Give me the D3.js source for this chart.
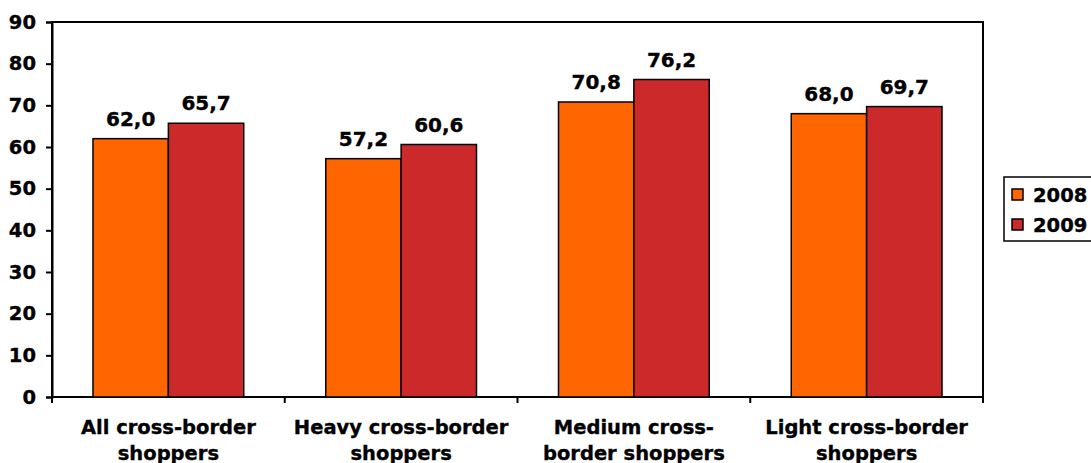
<!DOCTYPE html>
<html>
<head>
<meta charset="utf-8">
<script src="https://cdn.jsdelivr.net/npm/d3@7"></script>
<style>
  body { margin: 0; background: #fff; }
  text { font-family: "DejaVu Sans", Verdana, sans-serif; font-weight: bold; stroke: #000; stroke-width: 0.35px; }
</style>
</head>
<body>
<svg width="1091" height="463"></svg>
<script>
// Chart data
var categories = [
  ["All cross-border", "shoppers"],
  ["Heavy cross-border", "shoppers"],
  ["Medium cross-", "border shoppers"],
  ["Light cross-border", "shoppers"]
];
var series = ["2008", "2009"];
var values2008 = [62.0, 57.2, 70.8, 68.0];
var values2009 = [65.7, 60.6, 76.2, 69.7];
var yTicks = [0, 10, 20, 30, 40, 50, 60, 70, 80, 90];
var colors = ["#ff6600", "#cc292b"];

var svg = d3.select("svg"),
    margin = {top: 22, right: 108, bottom: 66, left: 52},
    width = 983 - margin.left,
    height = 397 - margin.top;

var x = d3.scaleBand().domain(d3.range(categories.length)).range([0, width]).paddingInner(0).paddingOuter(0);
var x1 = d3.scaleBand().domain(series).range([41, x.bandwidth() - 41]);
var y = d3.scaleLinear().domain([0, 90]).range([height, 0]);

var g = svg.append("g")
    .attr("transform", "translate(" + margin.left + "," + margin.top + ")");

// plot frame
g.append("rect")
    .attr("width", width).attr("height", height)
    .attr("fill", "none").attr("stroke", "#000").attr("stroke-width", 2);

// bars
var data = categories.map(function(c, i) {
  return [{s: "2008", v: values2008[i]}, {s: "2009", v: values2009[i]}];
});

var groups = g.selectAll(".grp")
  .data(data)
  .enter().append("g")
    .attr("transform", function(d, i) { return "translate(" + x(i) + ",0)"; });

groups.selectAll("rect")
  .data(function(d) { return d; })
  .enter().append("rect")
    .attr("x", function(d) { return x1(d.s); })
    .attr("y", function(d) { return y(d.v); })
    .attr("width", x1.bandwidth())
    .attr("height", function(d) { return height - y(d.v); })
    .attr("fill", function(d, i) { return colors[i]; })
    .attr("stroke", "#000").attr("stroke-width", 1.5);

groups.selectAll(".lbl")
  .data(function(d) { return d; })
  .enter().append("text")
    .attr("x", function(d) { return x1(d.s) + x1.bandwidth() / 2; })
    .attr("y", function(d) { return y(d.v) - 13; })
    .attr("text-anchor", "middle")
    .style("font-size", "20px")
    .text(function(d) { return d.v.toFixed(1).replace(".", ","); });

// y axis
var yAxis = g.append("g")
    .call(d3.axisLeft(y).tickValues(yTicks).tickSize(6).tickPadding(10));
yAxis.select(".domain").attr("stroke-width", 2);
yAxis.selectAll(".tick line").attr("stroke-width", 2);
yAxis.selectAll("text")
    .style("font-size", "19.5px").style("font-family", "DejaVu Sans").style("font-weight", "bold")
    .attr("fill", "#000").attr("stroke", "#000").attr("stroke-width", 0.35);

// x axis ticks at category boundaries
var bounds = d3.range(categories.length + 1).map(function(i) { return i * x.bandwidth(); });
g.selectAll(".xtick")
  .data(bounds)
  .enter().append("line")
    .attr("x1", function(d) { return d; }).attr("x2", function(d) { return d; })
    .attr("y1", height).attr("y2", height + 6)
    .attr("stroke", "#000").attr("stroke-width", 2);

// category labels
var cl = g.selectAll(".cat")
  .data(categories)
  .enter().append("text")
    .attr("text-anchor", "middle")
    .style("font-size", "19.5px")
    .attr("transform", function(d, i) { return "translate(" + (x(i) + x.bandwidth() / 2) + "," + (height + 37) + ")"; });
cl.selectAll("tspan")
  .data(function(d) { return d; })
  .enter().append("tspan")
    .attr("x", 0)
    .attr("dy", function(d, i) { return i ? 26 : 0; })
    .text(function(d) { return d; });

// legend
var legend = svg.append("g").attr("transform", "translate(1004,177)");
legend.append("rect")
    .attr("width", 100).attr("height", 64)
    .attr("fill", "#fff").attr("stroke", "#000").attr("stroke-width", 1.5);
var li = legend.selectAll(".li")
  .data(series)
  .enter().append("g")
    .attr("transform", function(d, i) { return "translate(8," + (12 + i * 30) + ")"; });
li.append("rect")
    .attr("width", 11).attr("height", 11)
    .attr("fill", function(d, i) { return colors[i]; })
    .attr("stroke", "#000").attr("stroke-width", 1.5);
li.append("text")
    .attr("x", 21).attr("y", 12.5)
    .style("font-size", "19.5px")
    .text(function(d) { return d; });
</script>
</body>
</html>
